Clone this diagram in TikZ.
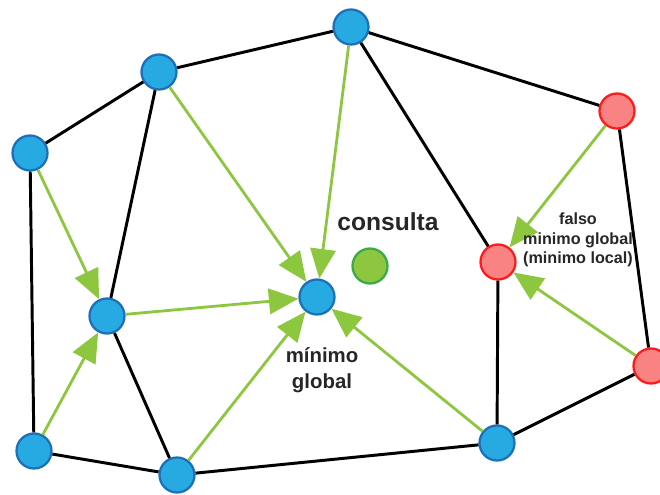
\documentclass[tikz,border=0pt]{standalone}
\usepackage{fontspec}
\setmainfont{Liberation Sans}
\usetikzlibrary{arrows.meta}
\definecolor{ptblue}{HTML}{27AAE1}
\definecolor{ptblueline}{HTML}{1C6FB8}
\definecolor{ptred}{HTML}{F98282}
\definecolor{ptredline}{HTML}{FF1A1A}
\definecolor{ptgreen}{HTML}{8DC63F}
\definecolor{ptgreenline}{HTML}{3AAA48}
\colorlet{flowgreen}{ptgreen}

\begin{document}
\begin{tikzpicture}[x=0.025cm,y=-0.025cm,
    pt/.style={circle,inner sep=0pt,minimum size=0.875cm,line width=1.6pt},
    bluept/.style={pt,fill=ptblue,draw=ptblueline},
    redpt/.style={pt,fill=ptred,draw=ptredline},
    querypt/.style={pt,fill=ptgreen,draw=ptgreenline},
    edge/.style={draw=black,line width=2.1pt},
    flow/.style={draw=flowgreen,line width=2pt,
                 -{Triangle[length=21pt,width=18pt]}},
    lbl/.style={align=center,inner sep=0pt,text=black!85}
]
\useasboundingbox (0,0) rectangle (660,495);

% points
\node[bluept] (A) at (351,27) {};
\node[bluept] (B) at (159,72) {};
\node[bluept] (C) at (30,153) {};
\node[bluept] (D) at (107,316) {};
\node[bluept] (E) at (34,451) {};
\node[bluept] (F) at (177,475) {};
\node[bluept] (G) at (317,297) {};
\node[bluept] (H) at (497,443) {};
\node[redpt] (R1) at (617,111) {};
\node[redpt] (R2) at (498,262) {};
\node[redpt] (R3) at (651,366) {};
\node[querypt] (Q) at (370,266) {};

% triangulation
\draw[edge] (C) -- (B);
\draw[edge] (B) -- (A);
\draw[edge] (A) -- (R1);
\draw[edge] (R1) -- (R3);
\draw[edge] (R3) -- (H);
\draw[edge] (H) -- (F);
\draw[edge] (F) -- (E);
\draw[edge] (E) -- (C);
\draw[edge] (B) -- (D);
\draw[edge] (D) -- (F);
\draw[edge] (A) -- (R2);
\draw[edge] (R2) -- (H);

% greedy steps
\draw[flow] (A) -- (G);
\draw[flow] (B) -- (G);
\draw[flow] (D) -- (G);
\draw[flow] (F) -- (G);
\draw[flow] (H) -- (G);
\draw[flow] (C) -- (D);
\draw[flow] (E) -- (D);
\draw[flow] (R1) -- (R2);
\draw[flow] (R3) -- (R2);

% labels
\node[lbl,font=\fontsize{17.5}{20}\selectfont\bfseries] (qtext) at (388,222) {consulta};
\node[lbl,font=\fontsize{14.5}{18.5}\selectfont\bfseries] (gtext) at (322,370) {mínimo\\global};
\node[lbl,font=\fontsize{11.5}{13.8}\selectfont\bfseries] (ftext) at (578,240) {falso\\minimo global\\(minimo local)};

\end{tikzpicture}
\end{document}
